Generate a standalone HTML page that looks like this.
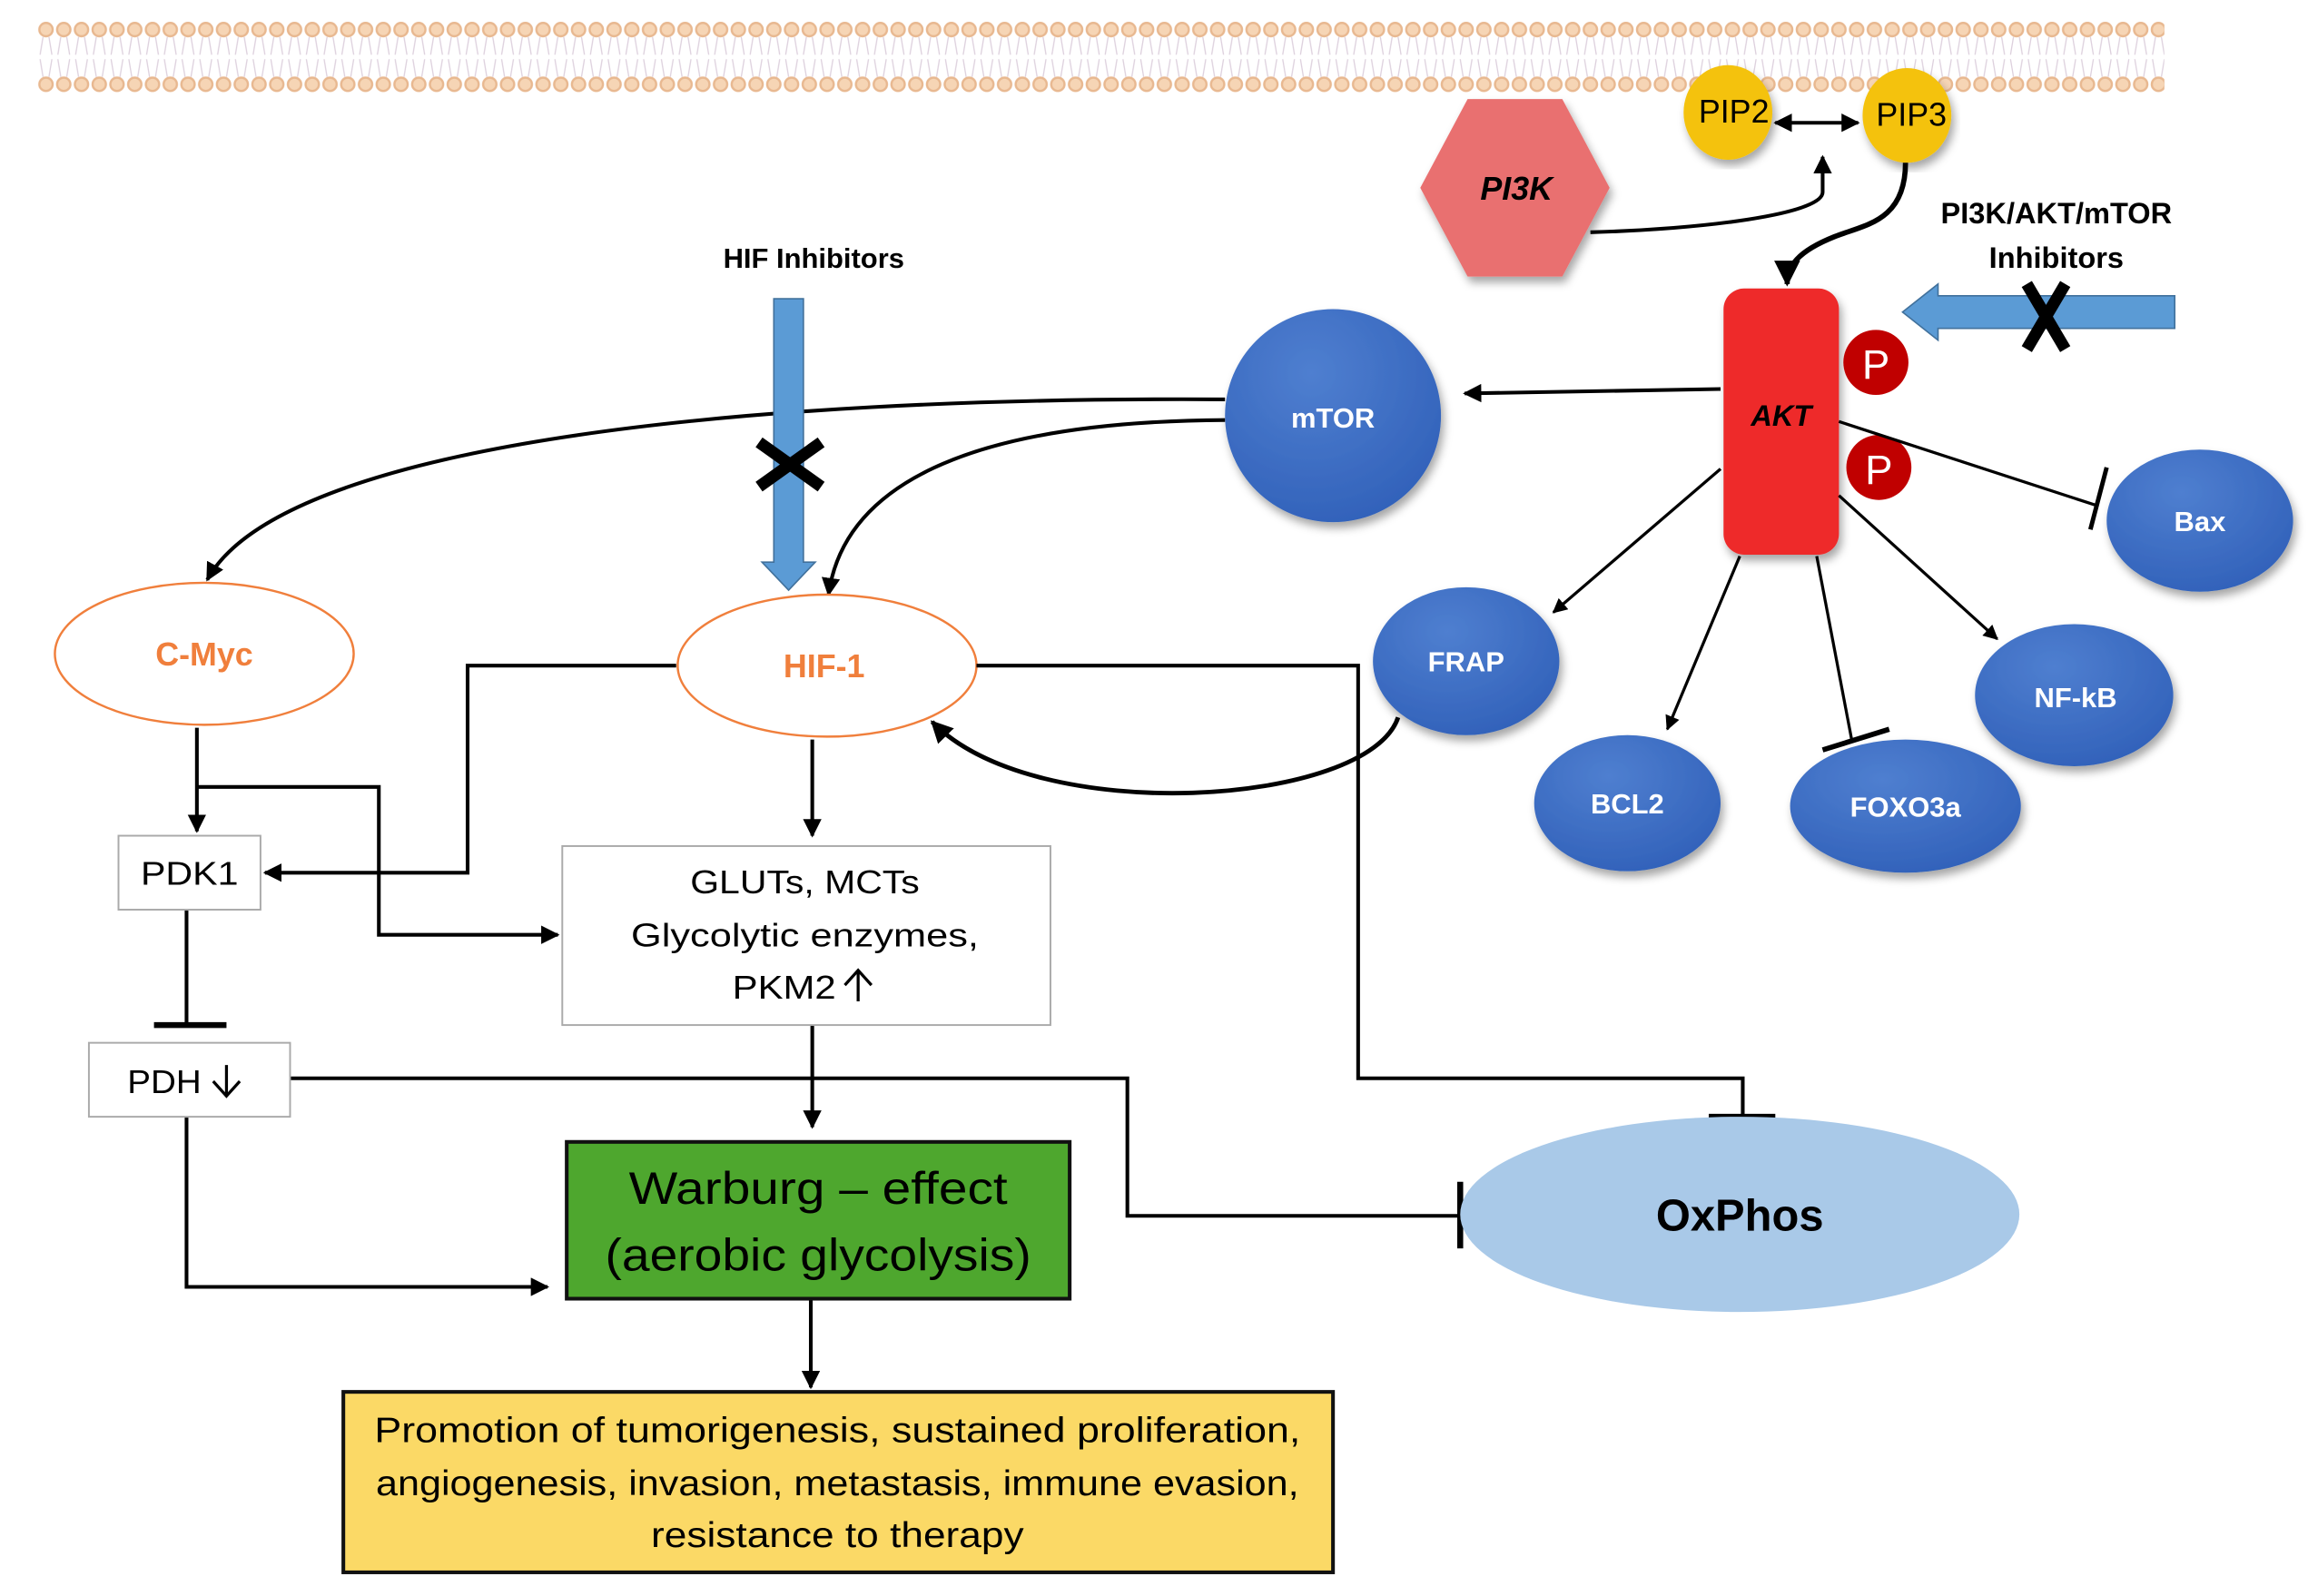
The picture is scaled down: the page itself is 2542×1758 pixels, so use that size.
<!DOCTYPE html>
<html><head><meta charset="utf-8"><style>
html,body{margin:0;padding:0;background:#fff}
svg{display:block}
text{font-family:"Liberation Sans",sans-serif}
</style></head><body>
<svg width="2542" height="1758" viewBox="0 0 1560 1079" xmlns="http://www.w3.org/2000/svg">
<defs>
<marker id="a" viewBox="0 0 10 10" refX="9" refY="5" markerWidth="5" markerHeight="5" orient="auto-start-reverse"><path d="M0,0L10,5L0,10z" fill="#000"/></marker>
<pattern id="lip" x="25" y="0" width="12" height="80" patternUnits="userSpaceOnUse">
<circle cx="6" cy="20" r="4.5" fill="#f6d5b5" stroke="#e8b890" stroke-width="1.5"/>
<circle cx="6" cy="57" r="4.5" fill="#f6d5b5" stroke="#e8b890" stroke-width="1.5"/>
<path d="M4,25L2,37M8,25L10,37M2,40L4,52M10,40L8,52" stroke="#ddd0dd" stroke-width="0.8" fill="none"/>
</pattern>
<radialGradient id="bl" cx="0.4" cy="0.3" r="0.8"><stop offset="0" stop-color="#4f7fd0"/><stop offset="1" stop-color="#2f5fb8"/></radialGradient>
<filter id="sh"><feDropShadow dx="2" dy="4" stdDeviation="3" flood-opacity="0.35"/></filter>
</defs>
<rect x="25" y="10" width="1438" height="56" fill="url(#lip)"/>

<polygon points="992,67 1056,67 1088,127 1056,187 992,187 960,127" fill="#e96f6f" filter="url(#sh)"/>
<text x="1025" y="135" font-size="22" font-weight="bold" font-style="italic" text-anchor="middle">PI3K</text>
<ellipse cx="1168" cy="76" rx="30" ry="32" fill="#f4c20d" filter="url(#sh)"/>
<ellipse cx="1289" cy="78" rx="30" ry="32" fill="#f4c20d" filter="url(#sh)"/>
<text x="1172" y="83" font-size="22" text-anchor="middle">PIP2</text>
<text x="1292" y="85" font-size="22" text-anchor="middle">PIP3</text>
<line x1="1200" y1="83" x2="1256" y2="83" stroke="#000" stroke-width="2.5" marker-start="url(#a)" marker-end="url(#a)"/>
<path d="M1075,157 C1150,155 1232,145 1232,130 L1232,106" fill="none" stroke="#000" stroke-width="2.5" marker-end="url(#a)"/>
<path d="M1288,110 C1288,150 1260,152 1240,160 C1215,170 1208,180 1208,192" fill="none" stroke="#000" stroke-width="3.5" marker-end="url(#a)"/>
<text x="1390" y="151" font-size="20" font-weight="bold" text-anchor="middle">PI3K/AKT/mTOR</text>
<text x="1390" y="181" font-size="20" font-weight="bold" text-anchor="middle">Inhibitors</text>
<polygon points="1470,200 1470,222 1310,222 1310,230 1286,211 1310,192 1310,200" fill="#5b9bd5" stroke="#41719c" stroke-width="1"/>
<path d="M1370,192 L1396,236 M1396,192 L1370,236" stroke="#000" stroke-width="8"/>

<rect x="1165" y="195" width="78" height="180" rx="14" fill="#ee2a2a" filter="url(#sh)"/>
<text x="1204" y="288" font-size="20" font-weight="bold" font-style="italic" text-anchor="middle">AKT</text>
<circle cx="1268" cy="245" r="22" fill="#c00000"/><text x="1268" y="256" font-size="28" fill="#fff" text-anchor="middle">P</text>
<circle cx="1270" cy="316" r="22" fill="#c00000"/><text x="1270" y="327" font-size="28" fill="#fff" text-anchor="middle">P</text>

<line x1="1163" y1="263" x2="990" y2="266" stroke="#000" stroke-width="2.5" marker-end="url(#a)"/>
<line x1="1243" y1="285" x2="1418" y2="342" stroke="#000" stroke-width="2"/>
<line x1="1424" y1="316" x2="1413" y2="358" stroke="#000" stroke-width="3"/>
<line x1="1163" y1="317" x2="1050" y2="414" stroke="#000" stroke-width="2" marker-end="url(#a)"/>
<line x1="1176" y1="376" x2="1127" y2="493" stroke="#000" stroke-width="2" marker-end="url(#a)"/>
<line x1="1228" y1="376" x2="1252" y2="502" stroke="#000" stroke-width="2"/>
<line x1="1232" y1="507" x2="1277" y2="493" stroke="#000" stroke-width="3.5"/>
<line x1="1243" y1="335" x2="1350" y2="432" stroke="#000" stroke-width="2" marker-end="url(#a)"/>

<g filter="url(#sh)">
<ellipse cx="901" cy="281" rx="73" ry="72" fill="url(#bl)"/>
<ellipse cx="1487" cy="352" rx="63" ry="48" fill="url(#bl)"/>
<ellipse cx="991" cy="447" rx="63" ry="50" fill="url(#bl)"/>
<ellipse cx="1100" cy="543" rx="63" ry="46" fill="url(#bl)"/>
<ellipse cx="1288" cy="545" rx="78" ry="45" fill="url(#bl)"/>
<ellipse cx="1402" cy="470" rx="67" ry="48" fill="url(#bl)"/>
</g>
<g fill="#fff" font-weight="bold" font-size="19" text-anchor="middle">
<text x="901" y="289">mTOR</text>
<text x="1487" y="359">Bax</text>
<text x="991" y="454">FRAP</text>
<text x="1100" y="550">BCL2</text>
<text x="1288" y="552">FOXO3a</text>
<text x="1403" y="478">NF-kB</text>
</g>

<text x="550" y="181" font-size="19" font-weight="bold" text-anchor="middle">HIF Inhibitors</text>
<path d="M828,270 C500,268 190,300 140,392" fill="none" stroke="#000" stroke-width="2.5" marker-end="url(#a)"/>
<polygon points="523,202 543,202 543,380 551,380 533,399 515,380 523,380" fill="#5b9bd5" stroke="#41719c" stroke-width="1"/>
<path d="M513,299 L555,329 M555,299 L513,329" stroke="#000" stroke-width="8"/>
<path d="M828,284 C650,285 570,330 560,402" fill="none" stroke="#000" stroke-width="2.5" marker-end="url(#a)"/>

<ellipse cx="138" cy="442" rx="101" ry="48" fill="#fff" stroke="#f07f3c" stroke-width="1.5"/>
<text x="138" y="450" font-size="22" font-weight="bold" fill="#f07f3c" text-anchor="middle">C-Myc</text>
<ellipse cx="559" cy="450" rx="101" ry="48" fill="#fff" stroke="#f07f3c" stroke-width="1.5"/>
<text x="557" y="458" font-size="22" font-weight="bold" fill="#f07f3c" text-anchor="middle">HIF-1</text>

<path d="M945,485 C925,545 700,560 630,488" fill="none" stroke="#000" stroke-width="3" marker-end="url(#a)"/>

<g fill="none" stroke="#000" stroke-width="2.5">
<path d="M457,450 H316 V590 H179" marker-end="url(#a)"/>
<path d="M660,450 H918 V729 H1178 V755"/>
<path d="M133,492 V562" marker-end="url(#a)"/>
<path d="M133,532 H256 V632 H377" marker-end="url(#a)"/>
<path d="M549,500 V565" marker-end="url(#a)"/>
<path d="M126,615 V693"/>
<path d="M196,729 H762 V822 H987"/>
<path d="M126,755 V870 H370" marker-end="url(#a)"/>
<path d="M549,693 V762" marker-end="url(#a)"/>
<path d="M548,878 V938" marker-end="url(#a)"/>
</g>
<line x1="104" y1="693" x2="153" y2="693" stroke="#000" stroke-width="4"/>
<line x1="1155" y1="755" x2="1200" y2="755" stroke="#000" stroke-width="4"/>
<line x1="987" y1="799" x2="987" y2="844" stroke="#000" stroke-width="4"/>

<rect x="80" y="565" width="96" height="50" fill="#fff" stroke="#aaa" stroke-width="1.2"/>
<text x="128" y="598" font-size="22" text-anchor="middle" textLength="66" lengthAdjust="spacingAndGlyphs">PDK1</text>
<rect x="60" y="705" width="136" height="50" fill="#fff" stroke="#aaa" stroke-width="1.2"/>
<text x="111" y="739" font-size="22" text-anchor="middle" textLength="50" lengthAdjust="spacingAndGlyphs">PDH</text>
<path d="M153,720 V740 M144,731 L153,741 L162,731" fill="none" stroke="#000" stroke-width="2"/>
<rect x="380" y="572" width="330" height="121" fill="#fff" stroke="#aaa" stroke-width="1.2"/>
<g font-size="22" text-anchor="middle">
<text x="544" y="604" textLength="155" lengthAdjust="spacingAndGlyphs">GLUTs, MCTs</text>
<text x="544" y="640" textLength="235" lengthAdjust="spacingAndGlyphs">Glycolytic enzymes,</text>
<text x="530" y="675" textLength="70" lengthAdjust="spacingAndGlyphs">PKM2</text>
</g>
<path d="M580,677 V656 M571,666 L580,656 L589,666" fill="none" stroke="#000" stroke-width="2"/>
<rect x="383" y="772" width="340" height="106" fill="#4ea72e" stroke="#111" stroke-width="2.5"/>
<text x="553" y="814" font-size="31" text-anchor="middle" textLength="256" lengthAdjust="spacingAndGlyphs">Warburg – effect</text>
<text x="553" y="859" font-size="31" text-anchor="middle" textLength="288" lengthAdjust="spacingAndGlyphs">(aerobic glycolysis)</text>

<ellipse cx="1176" cy="821" rx="189" ry="66" fill="#a9c9e8"/>
<text x="1176" y="832" font-size="30" font-weight="bold" text-anchor="middle">OxPhos</text>

<rect x="232" y="941" width="669" height="122" fill="#fbd966" stroke="#111" stroke-width="2.5"/>
<g font-size="24" text-anchor="middle">
<text x="566" y="975" textLength="626" lengthAdjust="spacingAndGlyphs">Promotion of tumorigenesis, sustained proliferation,</text>
<text x="566" y="1011" textLength="624" lengthAdjust="spacingAndGlyphs">angiogenesis, invasion, metastasis, immune evasion,</text>
<text x="566" y="1046" textLength="252" lengthAdjust="spacingAndGlyphs">resistance to therapy</text>
</g>
</svg>
</body></html>
